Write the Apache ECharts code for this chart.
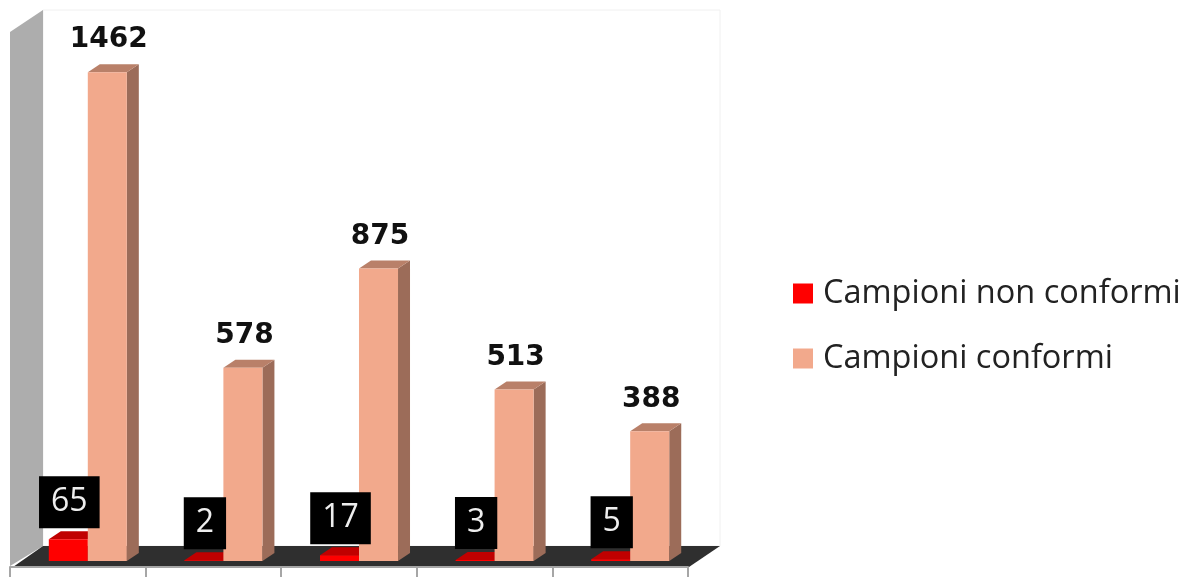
<!DOCTYPE html>
<html>
<head>
<meta charset="utf-8">
<style>
html,body{margin:0;padding:0;background:#fff}
#main{width:1187px;height:577px}
</style>
<script src="https://cdn.jsdelivr.net/npm/echarts@6/dist/echarts.min.js"></script>
</head>
<body>
<div id="main"></div>
<script>
var categories = ['1', '2', '3', '4', '5'];
var nonConformi = [65, 2, 17, 3, 5];
var conformi = [1462, 578, 875, 513, 388];
var seriesNames = ['Campioni non conformi', 'Campioni conformi'];

var chart = echarts.init(document.getElementById('main'));

var gridLeft = 10, gridRight = 688, gridTop = 26, gridBottom = 561;
var depthX = 12, depthY = 8; // finta profondita delle barre

function poly(points, color) {
    return {type: 'polygon', shape: {points: points}, style: {fill: color}};
}

function bar3d(colors, start, labelStyle) {
    return function (params, api) {
        var band = api.size([1, 0])[0];
        var c = api.coord([api.value(0), api.value(1)]);
        var base = api.coord([api.value(0), 0]);
        var x0 = c[0] + band * start, x1 = x0 + band * 0.2878;
        var y = c[1], y0 = base[1];
        return {
            type: 'group',
            children: [
                poly([[x1, y], [x1 + depthX, y - depthY], [x1 + depthX, y0 - depthY], [x1, y0]], colors[2]),
                poly([[x0, y], [x0 + depthX, y - depthY], [x1 + depthX, y - depthY], [x1, y]], colors[1]),
                poly([[x0, y], [x1, y], [x1, y0], [x0, y0]], colors[0]),
                labelStyle(x0, x1, y, api.value(1))
            ]
        };
    };
}

function blackLabel(x0, x1, y, v) {
    return {
        type: 'text', z2: 100,
        x: (x0 + x1) / 2 + 1, y: y - depthY - 3,
        style: {
            text: String(v), fill: '#eeeeee', font: '32px "Open Sans"', lineHeight: 32,
            backgroundColor: '#000', padding: [10, 12, 10, 12],
            align: 'center', verticalAlign: 'bottom'
        }
    };
}

function boldLabel(x0, x1, y, v) {
    return {
        type: 'text', z2: 100,
        x: (x0 + x1) / 2 + 1.5, y: y - 18,
        style: {
            text: String(v), fill: '#111', font: 'bold 28px "DejaVu Sans"',
            align: 'center', verticalAlign: 'bottom'
        }
    };
}

var option = {
    backgroundColor: '#fff',
    animation: false,
    grid: {left: gridLeft, width: gridRight - gridLeft, top: gridTop, height: gridBottom - gridTop},
    legend: {
        orient: 'vertical', left: 788, top: 272,
        itemWidth: 20, itemHeight: 20, itemGap: 32, icon: 'rect',
        data: seriesNames,
        textStyle: {fontFamily: 'Open Sans', fontSize: 32.5, color: '#222', padding: [0, 0, 0, 5]}
    },
    xAxis: {
        type: 'category', data: categories, offset: 6, z: 5,
        axisLine: {onZero: false, lineStyle: {color: '#a6a6a6', width: 2}},
        axisTick: {show: true, length: 10, lineStyle: {color: '#a6a6a6', width: 2}},
        axisLabel: {show: false}
    },
    yAxis: {type: 'value', min: 0, max: 1600, show: false},
    // pareti e pavimento
    graphic: [
        {type: 'polygon', z: 0, shape: {points: [[43, 10], [720, 10], [720, 546], [43, 546]]},
            style: {fill: '#fff', stroke: '#f0f0f0', lineWidth: 1}},
        {type: 'polygon', z: 1, shape: {points: [[10, 32], [43, 10], [43, 546], [10, 566]]},
            style: {fill: '#adadad'}},
        {type: 'polygon', z: 1, shape: {points: [[13, 567], [43, 546], [720, 546], [689, 567]]},
            style: {fill: '#2f2f2f'}}
    ],
    series: [
        {
            name: seriesNames[0], type: 'custom',
            itemStyle: {color: '#ff0000'},
            encode: {x: 0, y: 1},
            data: categories.map(function (c, i) { return [i, nonConformi[i]]; }),
            renderItem: bar3d(['#ff0000', '#c00000', '#c00000'], -0.2138, blackLabel)
        },
        {
            name: seriesNames[1], type: 'custom',
            itemStyle: {color: '#f2a98c'},
            encode: {x: 0, y: 1},
            data: categories.map(function (c, i) { return [i, conformi[i]]; }),
            renderItem: bar3d(['#f2a98c', '#b98069', '#9c6c59'], 0.0737, boldLabel)
        }
    ]
};
chart.setOption(option);
</script>
</body>
</html>
